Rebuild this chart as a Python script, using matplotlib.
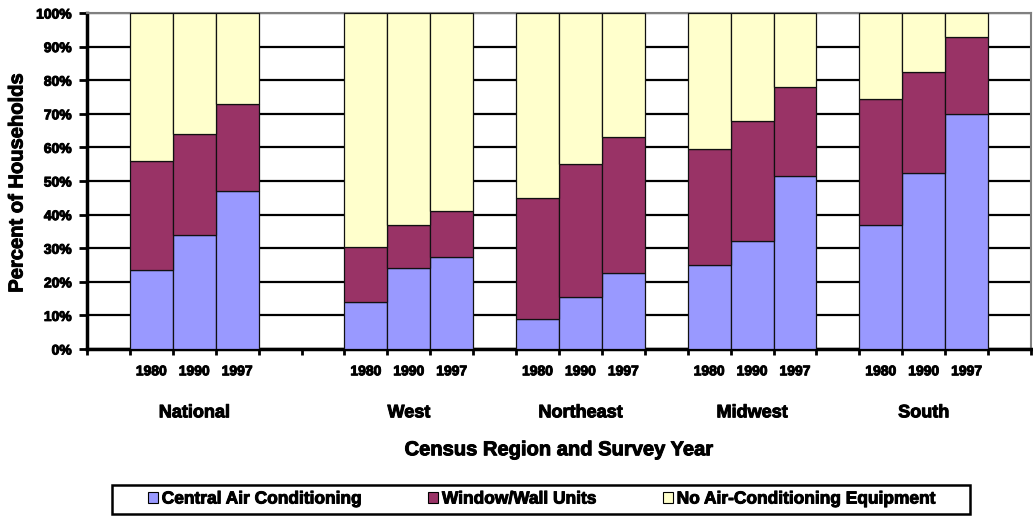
import numpy as np
import matplotlib.pyplot as plt
import matplotlib.patheffects as pe
from matplotlib.patches import Patch, Rectangle

plt.rcParams['font.family'] = ['Liberation Sans', 'DejaVu Sans']
plt.rcParams['font.weight'] = 'bold'
heavy = [pe.withStroke(linewidth=0.7, foreground="black")]

regions = ["National", "West", "Northeast", "Midwest", "South"]
years = ["1980", "1990", "1997"]
# percent of households, three survey years per region
central = [23.5, 34, 47, 14, 24, 27.5, 9, 15.5, 22.5, 25, 32, 51.5, 37, 52.5, 70]
window = [32.5, 30, 26, 16.5, 13, 13.5, 36, 39.5, 40.5, 34.5, 36, 26.5, 37.5, 30, 23]
no_ac = [44, 36, 27, 69.5, 63, 59, 55, 45, 37, 40.5, 32, 22, 25.5, 17.5, 7]
series_names = ["Central Air Conditioning", "Window/Wall Units", "No Air-Conditioning Equipment"]
colors = ["#9999FF", "#993366", "#FFFFCC"]

# empty category slots before each region group
gaps = [1, 2, 1, 1, 1]
pos = []
start = 0
for g in gaps:
    start += g
    pos += [start, start + 1, start + 2]
    start += 3
ncat = start + 1
pos = np.array(pos)

fig = plt.figure(figsize=(10.33, 5.17), dpi=100)
ax = fig.add_axes([87 / 1033, 168 / 517, 944 / 1033, 336 / 517])

bottom = np.zeros(len(pos))
for vals, c in zip([central, window, no_ac], colors):
    vals = np.array(vals)
    ax.bar(pos, vals, width=1.0, bottom=bottom, color=c, edgecolor="#111111",
           linewidth=0.9, zorder=3)
    bottom += vals

ax.set_xlim(-0.5, ncat - 0.5)
ax.set_ylim(0, 100)
ax.set_yticks(np.arange(0, 101, 10))
ax.set_yticklabels([f"{v}%" for v in range(0, 101, 10)], fontsize=10)
ax.yaxis.grid(True, color="black", linewidth=1.6, zorder=0)
ax.set_axisbelow(True)
ax.tick_params(axis="y", length=6, width=2, pad=5)

ax.set_xticks(pos)
ax.set_xticklabels(years * len(regions), fontsize=10)
ax.tick_params(axis="x", length=0, pad=11)
ax.set_xticks(np.arange(-0.5, ncat, 1), minor=True)
ax.tick_params(axis="x", which="minor", length=4, width=2)
for t in ax.get_xticklabels() + ax.get_yticklabels():
    t.set_path_effects(heavy)

for s in ["left", "bottom"]:
    ax.spines[s].set_linewidth(2.5)
    ax.spines[s].set_color("black")
for s in ["top", "right"]:
    ax.spines[s].set_linewidth(1.5)
    ax.spines[s].set_color("#808080")

for i, r in enumerate(regions):
    ax.text(pos[3 * i + 1], -0.19, r, transform=ax.get_xaxis_transform(),
            ha="center", va="center", fontsize=13, path_effects=heavy)
ax.text(0.5, -0.30, "Census Region and Survey Year", transform=ax.transAxes,
        ha="center", va="center", fontsize=14.5, path_effects=heavy)
fig.text(17 / 1033, 334 / 517, "Percent of Households", rotation=90,
         ha="center", va="center", fontsize=14.5, path_effects=heavy)

# legend box drawn separately so it can be wider than its entries
fig.patches.append(Rectangle((112 / 1033, 3 / 517), 858 / 1033, 29 / 517,
                             transform=fig.transFigure, fill=False,
                             edgecolor="black", linewidth=1.8))
handles = [Patch(facecolor=c, edgecolor="black", linewidth=0.8) for c in colors]
leg = fig.legend(handles, series_names, loc="center", ncol=3,
                 bbox_to_anchor=(542 / 1033, 18 / 517), fontsize=12.5,
                 frameon=False, handlelength=0.6, handleheight=0.6,
                 handletextpad=0.2, columnspacing=3.8, borderpad=0.3)
for t in leg.get_texts():
    t.set_path_effects(heavy)

fig.savefig("out.png", dpi=100)
